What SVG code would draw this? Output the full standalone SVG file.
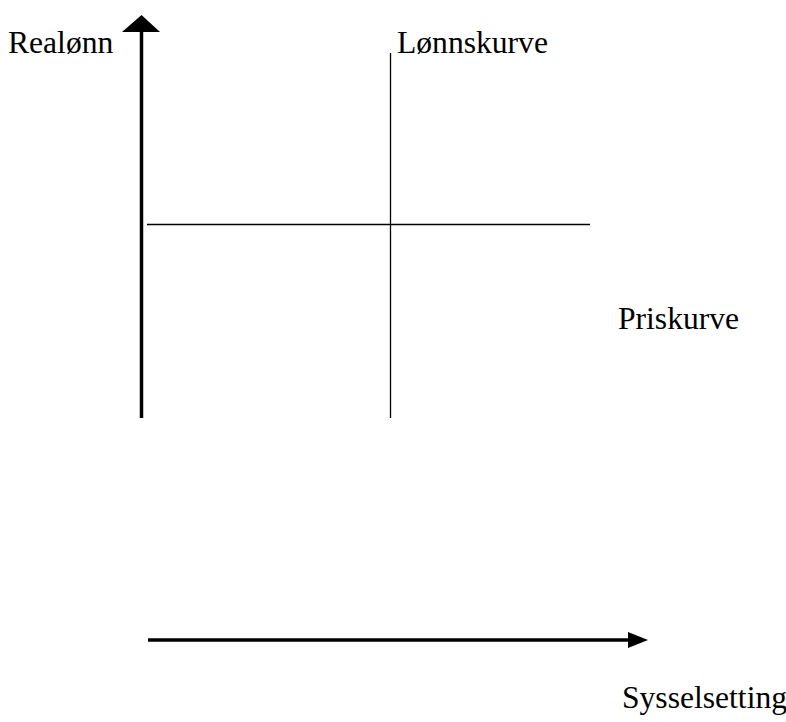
<svg xmlns="http://www.w3.org/2000/svg" width="786" height="722" viewBox="0 0 786 722">
<style>
text{font-family:"Liberation Serif","Times New Roman",serif;font-size:31.6px;fill:#000}
.axis{stroke:#000;stroke-width:3.5;fill:none}
.curve{stroke:#000;stroke-width:1.3;fill:none}
</style>
<rect width="786" height="722" fill="#fff"/>
<g id="connectors">
<line class="axis" x1="141.5" y1="418" x2="141.5" y2="30"/>
<polygon points="122,32 141.5,15 160,32" fill="#000"/>
<line class="axis" x1="148" y1="640" x2="630" y2="640"/>
<polygon points="628,632 648,640 628,648" fill="#000"/>
<line class="curve" x1="147" y1="224.5" x2="590" y2="224.5"/>
<line class="curve" x1="390.5" y1="53" x2="390.5" y2="418"/>
</g>
<g id="realonn"><text x="8" y="53">Realønn</text></g>
<g id="lonnskurve"><text x="397" y="53">Lønnskurve</text></g>
<g id="priskurve"><text x="618" y="329">Priskurve</text></g>
<g id="sysselsetting"><text x="622" y="708">Sysselsetting</text></g>
</svg>
